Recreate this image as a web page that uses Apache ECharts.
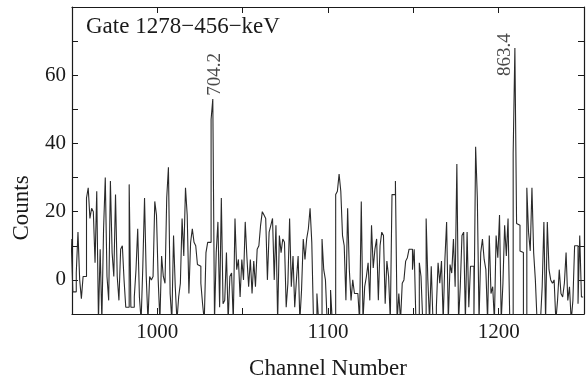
<!DOCTYPE html>
<html><head><meta charset="utf-8">
<script src="https://cdn.jsdelivr.net/npm/echarts@6/dist/echarts.min.js"></script>
<style>html,body{margin:0;padding:0;background:#fff}#c{width:588px;height:385px}</style>
</head><body><div id="c"></div>
<script>
// Channel of the first bin; one bin per channel
const startChannel = 950;
// Counts, channels 950-1042
const countsA = [12,-3.5,-3.5,2,14,0,-5.5,1,1,24,27,18,21,20,5,26,-12,9,-12,15,30,1,-6,29,8,1,25,1,-6,9,10,0,-8,-8,28,-8,-8,-5,3,15,-5,-12,4,24,1,-12,1,0,1,23,19,0,-12,7,1,-1,24,33,-4,-12,13,-2,-12,-5,-1,18,7,27,19,-4,11,15,11,10,4.5,4,-1,-7,-12,8,11,11,47,53,-12,8,17,-8,24,-7,-6,8,-12];
// Counts, channels 1043-1145
const countsB = [1,2,-12,18,3,6,-5,6,0,17,6.5,-2,6,-4,5.5,-2,9,10,16,20,19,18,0,14,16,18,0,16,-12,13,8,12,11,-8,-1,18,-2,7,-8,0,7,-12,-3,12,6,12,15,21,11,-12,-12,-4,-12,-12,12,3,0,-12,-12,-3,-12,-12,25,26,31,26,13,10,-6,21,3,-6,0,-4,-4,-4,-12,23,-12,-2,1,5,-6,16,3.5,9,12,-6,10,14,13,-7,5.5,1,-12,25,25,29,-12,-4,-12,-1,0];
// Counts, channels 1146-1249
const countsC = [5.5,6.5,9,9,3,9,-12,-12,5,1,-12,-12,18,0,-12,4,-12,-12,-8,5,-1,5.5,-12,6,17,-12,4.5,2,12,-2,34,-12,-2,13,14,-12,14,-8,4,4,-12,39,24,-12,8,12,6,3,-12,13,-4,-2,-12,13,6.5,19,-12,-1,16,7,18,-12,-12,37,68,16.5,16,8.5,8,-12,-12,27,14,8.5,27,8,0,-12,-12,-12,-2,17,-12,17,3,0,-1,0,-12,-6,3,-4,-5,-1,8,-6,-2,-12,-6,10,10,-7,13,-5];
const xTickLabels = [1000, 1100, 1200];
const yTickLabels = [0, 20, 40, 60];
const peakLabels = ['704.2', '863.4'];
const peakLabelChannel = [1034, 1204];
const peakLabelCount = [54, 59.8];
const gateText = 'Gate 1278\u2212456\u2212keV';
const yAxisTitle = 'Counts';
const xAxisTitle = 'Channel Number';

const counts = countsA.concat(countsB, countsC);
// histogram outline: each bin spans channel-0.5 .. channel+0.5
const histData = [];
counts.forEach((v, i) => {
  const ch = startChannel + i;
  histData.push([ch - 0.5, v], [ch + 0.5, v]);
});
const labelData = peakLabels.map((t, i) => ({ value: [peakLabelChannel[i], peakLabelCount[i]], name: t }));

const FONT = 'Liberation Serif';
const INK = '#1a1a1a';
const chart = echarts.init(document.getElementById('c'), null, { renderer: 'canvas' });
const frameLine = { show: true, onZero: false, lineStyle: { color: INK, width: 1.2 } };
const tickIn = { show: true, inside: true, length: 6, lineStyle: { color: INK, width: 1 } };
chart.setOption({
  animation: false,
  backgroundColor: '#fff',
  grid: { left: 72, right: 4, top: 7, bottom: 64, containLabel: false },
  xAxis: [{
    type: 'value', min: 950, max: 1250, interval: 50, position: 'bottom',
    axisLine: frameLine, axisTick: tickIn, splitLine: { show: false },
    axisLabel: { color: INK, fontFamily: FONT, fontSize: 21, margin: 8,
      formatter: v => xTickLabels.includes(v) ? String(v) : '' },
    name: xAxisTitle, nameLocation: 'middle', nameGap: 43,
    nameTextStyle: { color: INK, fontFamily: FONT, fontSize: 23 }
  }, {
    type: 'value', min: 950, max: 1250, interval: 50, position: 'top',
    axisLine: frameLine, axisTick: tickIn, axisLabel: { show: false }, splitLine: { show: false }
  }],
  yAxis: [{
    type: 'value', min: -10, max: 80, interval: 10, position: 'left',
    axisLine: frameLine, axisTick: tickIn, splitLine: { show: false },
    axisLabel: { color: INK, fontFamily: FONT, fontSize: 21, margin: 6,
      formatter: v => yTickLabels.includes(v) ? String(v) : '' }
  }, {
    type: 'value', min: -10, max: 80, interval: 10, position: 'right',
    axisLine: frameLine, axisTick: tickIn, axisLabel: { show: false }, splitLine: { show: false }
  }],
  series: [{
    type: 'line', data: histData, xAxisIndex: 0, yAxisIndex: 0,
    symbol: 'none', clip: true,
    lineStyle: { color: '#2a2a2a', width: 1.1 }
  }, {
    type: 'scatter', data: labelData, symbolSize: 0, xAxisIndex: 0, yAxisIndex: 0,
    label: { show: true, formatter: p => p.name, rotate: 90, position: [0, 0],
      align: 'left', verticalAlign: 'middle',
      color: INK, fontFamily: FONT, fontSize: 19 }
  }],
  graphic: [{
    type: 'text', left: 86, top: 15,
    style: { text: gateText, fill: INK, font: '23px "Liberation Serif"' }
  }, {
    type: 'text', x: 22, y: 208, rotation: Math.PI / 2,
    style: { text: yAxisTitle, fill: INK, font: '23px "Liberation Serif"', textAlign: 'center', textVerticalAlign: 'middle' }
  }]
});
</script></body></html>
